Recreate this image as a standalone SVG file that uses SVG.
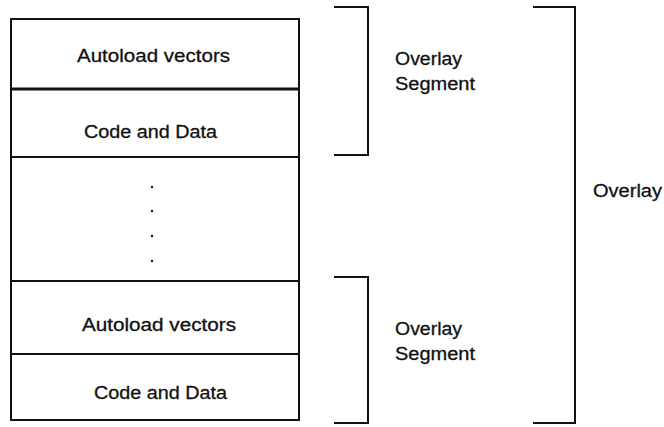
<svg xmlns="http://www.w3.org/2000/svg" width="664" height="427" viewBox="0 0 664 427">
  <style>
    .frame { fill: none; stroke: #111; stroke-width: 2; }
    .thick { stroke: #111; stroke-width: 3; }
    .rule { stroke: #111; stroke-width: 2; }
    .lbl { font-family: "Liberation Sans", Arial, sans-serif; font-size: 17.5px; fill: #111; stroke: #111; stroke-width: 0.3; }
    .side { font-family: "Liberation Sans", Arial, sans-serif; font-size: 18px; fill: #111; stroke: #111; stroke-width: 0.3; }
    .dot { fill: #111; }
  </style>
  <rect width="664" height="427" fill="#fff"/>

  <!-- memory stack -->
  <g id="stack">
    <rect class="frame" x="11" y="19" width="288" height="401"/>
  </g>
  <g id="seg1-vectors">
    <text class="lbl" x="77" y="62" textLength="153" lengthAdjust="spacingAndGlyphs">Autoload vectors</text>
  </g>
  <line class="thick" x1="11" y1="89" x2="299" y2="89"/>
  <g id="seg1-code">
    <text class="lbl" x="84" y="138" textLength="133" lengthAdjust="spacingAndGlyphs">Code and Data</text>
  </g>
  <line class="rule" x1="11" y1="157" x2="299" y2="157"/>
  <g id="gap">
    <circle class="dot" cx="152" cy="187" r="1.2"/>
    <circle class="dot" cx="152" cy="211" r="1.2"/>
    <circle class="dot" cx="152" cy="236" r="1.2"/>
    <circle class="dot" cx="152" cy="261" r="1.2"/>
  </g>
  <line class="rule" x1="11" y1="281" x2="299" y2="281"/>
  <g id="seg2-vectors">
    <text class="lbl" x="82" y="331" textLength="154" lengthAdjust="spacingAndGlyphs">Autoload vectors</text>
  </g>
  <line class="rule" x1="11" y1="354" x2="299" y2="354"/>
  <g id="seg2-code">
    <text class="lbl" x="94" y="399" textLength="133" lengthAdjust="spacingAndGlyphs">Code and Data</text>
  </g>

  <!-- brackets -->
  <g id="connectors">
    <polyline class="frame" points="334,7 368,7 368,155 334,155"/>
    <polyline class="frame" points="334,277 368,277 368,423 334,423"/>
    <polyline class="frame" points="533,7 575,7 575,423 533,423"/>
  </g>

  <g id="seg1-label">
    <text class="side" x="395" y="65" textLength="67" lengthAdjust="spacingAndGlyphs">Overlay</text>
    <text class="side" x="395" y="90" textLength="80" lengthAdjust="spacingAndGlyphs">Segment</text>
  </g>
  <g id="seg2-label">
    <text class="side" x="395" y="335" textLength="67" lengthAdjust="spacingAndGlyphs">Overlay</text>
    <text class="side" x="395" y="360" textLength="80" lengthAdjust="spacingAndGlyphs">Segment</text>
  </g>
  <g id="overlay-label">
    <text class="side" x="593" y="197" textLength="69" lengthAdjust="spacingAndGlyphs">Overlay</text>
  </g>
</svg>
